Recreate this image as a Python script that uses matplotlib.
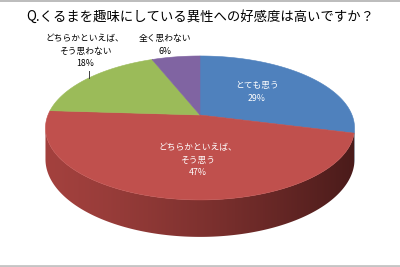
import numpy as np
import matplotlib
matplotlib.use("Agg")
import matplotlib.pyplot as plt
from matplotlib.patches import Polygon
from matplotlib.colors import to_rgb

plt.rcParams['font.family'] = ['Noto Sans CJK JP', 'DejaVu Sans']

# Survey answers, in the order they go round the pie (clockwise from 12 o'clock)
categories = ["とても思う", "どちらかといえば、\nそう思う", "どちらかといえば、\nそう思わない", "全く思わない"]
values = [29, 47, 18, 6]
title = "Q.くるまを趣味にしている異性への好感度は高いですか？"

top_colors = ["#4f81bd", "#c0504d", "#9bbb59", "#8064a2"]
side_light = ["#3d6699", "#a3413e", "#7d9845", "#654f83"]
side_dark = ["#1f3552", "#4a1b1a", "#3e4c22", "#33284a"]
label_colors = ["white", "white", "black", "black"]
# label anchor (pixel coords) for each slice
label_pos = [(257, 92), (198, 160), (85, 51), (165, 45)]

W, H = 400, 267
fig = plt.figure(figsize=(W / 100, H / 100), dpi=100)
ax = fig.add_axes([0, 0, 1, 1])
ax.set_xlim(0, W)
ax.set_ylim(H, 0)
ax.axis("off")

# perspective disc: centre, radii, perspective strength, thickness
cx, cy = 200.0, 115.0
A, B = 152.0, 69.65
p = 0.18
D = 30.3


def proj(theta_deg, r=1.0, depth=0.0):
    t = np.radians(theta_deg)
    u = r * np.cos(t)
    v = r * np.sin(t)
    w = 1 + p * v
    return cx + A * u / w, cy - B * v / w + D * depth / w


total = float(sum(values))
spans = [v / total * 360.0 for v in values]
starts = [90.0 - sum(spans[:i]) for i in range(len(values))]
ends = [s - sp for s, sp in zip(starts, spans)]

# visible part of the outer rim (front half, between the silhouette extremes)
ext = np.degrees(np.arcsin(p))
vis_lo, vis_hi = -180.0 + ext, -ext

xl, xr = cx - 1.02 * A, cx + 1.02 * A
ytop, ybot = cy - 5, cy + B / (1 - p) + D / (1 - p) + 5


def gradient_image(c1, c2, n=256):
    a, b = np.array(to_rgb(c1)), np.array(to_rgb(c2))
    f = np.linspace(0, 1, n) ** 1.3
    row = a[None, :] + (b - a)[None, :] * f[:, None]
    return np.repeat(row[None, :, :], 2, axis=0)


# rim (side walls) with horizontal shading
for i in range(len(values)):
    for k in (-360.0, 0.0):
        lo = max(ends[i] + k, vis_lo)
        hi = min(starts[i] + k, vis_hi)
        if hi <= lo:
            continue
        ts = np.linspace(lo, hi, 300)
        top = [proj(t) for t in ts]
        bot = [proj(t, depth=1) for t in ts[::-1]]
        poly = Polygon(top + bot, closed=True, facecolor="none",
                       edgecolor="none")
        ax.add_patch(poly)
        im = ax.imshow(gradient_image(side_light[i], side_dark[i]),
                       extent=(xl, xr, ybot, ytop), aspect="auto",
                       interpolation="bilinear", zorder=1)
        im.set_clip_path(poly)

# top faces
for i in range(len(values)):
    ts = np.linspace(starts[i], ends[i], 200)
    pts = [proj(0, r=0)] + [proj(t) for t in ts]
    ax.add_patch(Polygon(pts, closed=True, facecolor=top_colors[i],
                         edgecolor=top_colors[i], linewidth=0.4, zorder=2))

ax.set_xlim(0, W)
ax.set_ylim(H, 0)

# data labels
for i in range(len(values)):
    x, y = label_pos[i]
    ax.text(x, y, f"{categories[i]}\n{values[i]}%", ha="center", va="center",
            fontsize=6.3, color=label_colors[i], linespacing=1.45, zorder=3)

# leader line for the green slice label
ax.plot([89, 89], [71, 78], color="#404040", linewidth=0.7, zorder=3)

ax.text(W / 2, 17, title, ha="center", va="center", fontsize=9.6, color="black")

# thin grey frame lines at top and bottom
ax.axhline(0.5, color="#b0b0b0", linewidth=1.2)
ax.axhline(265.5, color="#c4c4c4", linewidth=2.0)

fig.savefig("out.png", dpi=100, facecolor="white")
